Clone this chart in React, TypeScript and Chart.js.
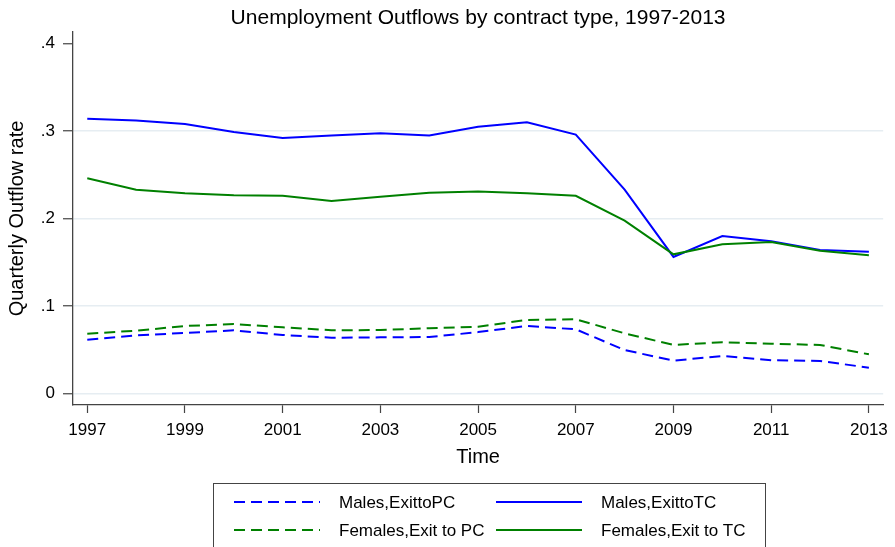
import { useEffect, useRef } from 'react';
import { Chart, registerables } from 'chart.js';

Chart.register(...registerables);

const FONT = '"Liberation Sans", Arial, Helvetica, sans-serif';

const titleText = 'Unemployment Outflows by contract type, 1997-2013';
const xAxisTitle = 'Time';
const yAxisTitle = 'Quarterly Outflow rate';

const years = [1997, 1998, 1999, 2000, 2001, 2002, 2003, 2004, 2005, 2006, 2007, 2008, 2009, 2010, 2011, 2012, 2013];

const malesPC = [0.0613, 0.0663, 0.069, 0.072, 0.0667, 0.0636, 0.064, 0.0644, 0.07, 0.077, 0.0732, 0.0495, 0.0373, 0.0427, 0.0378, 0.037, 0.0293];
const malesTC = [0.314, 0.312, 0.308, 0.299, 0.292, 0.295, 0.2975, 0.295, 0.305, 0.31, 0.296, 0.233, 0.156, 0.18, 0.174, 0.164, 0.162];
const femalesPC = [0.0682, 0.0716, 0.077, 0.0793, 0.0755, 0.0721, 0.0724, 0.0744, 0.0762, 0.0839, 0.0847, 0.0686, 0.0553, 0.0584, 0.0568, 0.0553, 0.0446];
const femalesTC = [0.246, 0.233, 0.229, 0.2265, 0.226, 0.22, 0.225, 0.2295, 0.231, 0.229, 0.226, 0.1975, 0.159, 0.1705, 0.173, 0.163, 0.158];

const seriesLabels = ['Males,ExittoPC', 'Males,ExittoTC', 'Females,Exit to PC', 'Females,Exit to TC'];

const xTickYears = [1997, 1999, 2001, 2003, 2005, 2007, 2009, 2011, 2013];
const yTickValues = [0, 0.1, 0.2, 0.3, 0.4];
const yTickLabels = ['0', '.1', '.2', '.3', '.4'];
const yGridValues = [0, 0.1, 0.2, 0.3];

const BLUE = '#0000ff';
const GREEN = '#008000';
const DASH = [11, 6];

const toPoints = (vals: number[]) => vals.map((v, i) => ({ x: years[i], y: v }));

// Title above the plot and the boxed two-column key below it.
const framePlugin = {
  id: 'frameText',
  afterDraw(chart: any) {
    const { ctx, chartArea } = chart;
    ctx.save();
    ctx.fillStyle = '#000';
    ctx.font = `21px ${FONT}`;
    ctx.textAlign = 'center';
    ctx.textBaseline = 'middle';
    ctx.fillText(titleText, (chartArea.left + chartArea.right) / 2, 18);

    ctx.strokeStyle = '#444';
    ctx.lineWidth = 1;
    ctx.strokeRect(213.5, 483.5, 552, 100);

    const cols = [234, 496];
    const rows = [502, 530];
    const sampleLen = 86;
    ctx.font = `17px ${FONT}`;
    ctx.textAlign = 'left';
    chart.data.datasets.forEach((ds: any, i: number) => {
      const x = cols[i % 2];
      const y = rows[Math.floor(i / 2)];
      ctx.beginPath();
      ctx.setLineDash(ds.borderDash || []);
      ctx.strokeStyle = ds.borderColor;
      ctx.lineWidth = ds.borderWidth;
      ctx.moveTo(x, y);
      ctx.lineTo(x + sampleLen, y);
      ctx.stroke();
      ctx.setLineDash([]);
      ctx.fillStyle = '#000';
      ctx.fillText(ds.label, x + sampleLen + 19, y + 1);
    });
    ctx.restore();
  },
};

export default function App() {
  const canvasRef = useRef<HTMLCanvasElement | null>(null);

  useEffect(() => {
    const canvas = canvasRef.current;
    if (!canvas) return;
    const chart = new Chart(canvas, {
      type: 'line',
      data: {
        datasets: [
          { label: seriesLabels[0], data: toPoints(malesPC), borderColor: BLUE, borderDash: DASH, borderWidth: 2, order: 4 },
          { label: seriesLabels[1], data: toPoints(malesTC), borderColor: BLUE, borderWidth: 2, order: 3 },
          { label: seriesLabels[2], data: toPoints(femalesPC), borderColor: GREEN, borderDash: DASH, borderWidth: 2, order: 2 },
          { label: seriesLabels[3], data: toPoints(femalesTC), borderColor: GREEN, borderWidth: 2, order: 1 },
        ],
      },
      options: {
        responsive: false,
        animation: false,
        events: [],
        layout: { padding: { left: 0, top: 32, right: 11, bottom: 0 } },
        elements: { point: { radius: 0 }, line: { tension: 0, fill: false } },
        plugins: { legend: { display: false }, title: { display: false }, tooltip: { enabled: false } },
        scales: {
          x: {
            type: 'linear',
            min: 1996.708,
            max: 2013.292,
            afterBuildTicks: (scale: any) => {
              scale.ticks = xTickYears.map((v) => ({ value: v }));
            },
            afterFit: (scale: any) => {
              scale.height = 142;
            },
            border: { display: true, color: '#444', width: 1.3 },
            grid: { drawOnChartArea: false, drawTicks: true, tickLength: 8, tickColor: '#444', tickWidth: 1.2 },
            ticks: {
              autoSkip: false,
              maxRotation: 0,
              padding: 7,
              color: '#000',
              font: { family: FONT, size: 17 },
              callback: (v: any) => String(v),
            },
            title: {
              display: true,
              text: xAxisTitle,
              color: '#000',
              font: { family: FONT, size: 20 },
              padding: { top: 0, bottom: 78 },
            },
          },
          y: {
            type: 'linear',
            min: -0.0134,
            max: 0.4134,
            afterBuildTicks: (scale: any) => {
              scale.ticks = yTickValues.map((v) => ({ value: v }));
            },
            afterFit: (scale: any) => {
              scale.width = 73;
            },
            border: { display: true, color: '#444', width: 1.3 },
            grid: {
              drawTicks: true,
              tickLength: 10,
              tickColor: '#444',
              tickWidth: 1.2,
              lineWidth: 1.5,
              color: (c: any) => (yGridValues.includes(c.tick?.value) ? '#e6edf2' : 'rgba(0,0,0,0)'),
            },
            ticks: {
              padding: 8,
              color: '#000',
              font: { family: FONT, size: 17 },
              callback: (v: any) => {
                const idx = yTickValues.findIndex((t) => Math.abs(t - v) < 1e-9);
                return idx >= 0 ? yTickLabels[idx] : '';
              },
            },
            title: {
              display: true,
              text: yAxisTitle,
              color: '#000',
              font: { family: FONT, size: 20 },
              padding: { top: 5, bottom: 0 },
            },
          },
        },
      },
      plugins: [framePlugin],
    });
    return () => chart.destroy();
  }, []);

  return (
    <div style={{ position: 'fixed', left: 0, top: 0, width: 895, height: 547, background: '#fff' }}>
      <canvas ref={canvasRef} width={895} height={547} style={{ display: 'block' }} />
    </div>
  );
}
